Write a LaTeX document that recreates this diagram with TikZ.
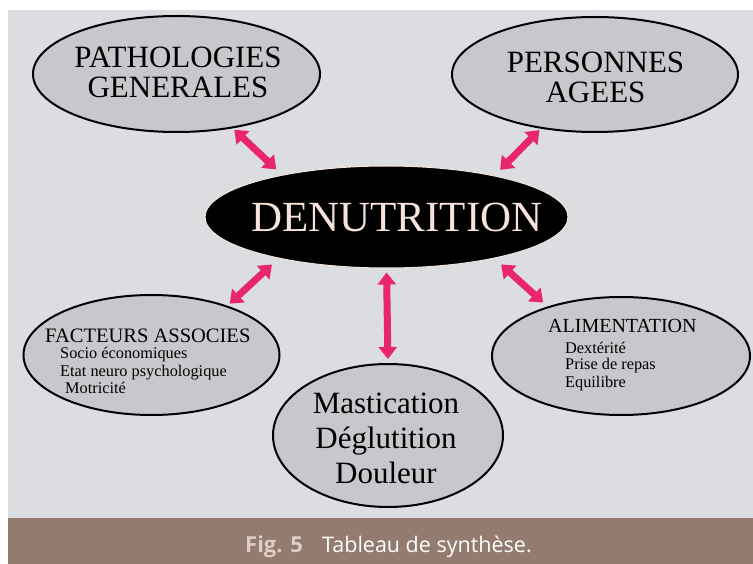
\documentclass[tikz,border=0pt]{standalone}
\usepackage{fontspec}
\setmainfont{Liberation Serif}
\newfontfamily\capfont{Open Sans}
\usetikzlibrary{shapes.geometric,arrows.meta}
\definecolor{fond}{RGB}{220,221,224}
\definecolor{gris}{RGB}{200,200,204}
\definecolor{rose}{RGB}{233,38,108}
\definecolor{bandeau}{RGB}{147,123,112}
\definecolor{figtxt}{RGB}{222,206,198}
\definecolor{dentxt}{RGB}{246,228,220}
\tikzset{
  bulle/.style={ellipse,draw=black,line width=2pt,fill=gris,inner sep=0pt},
  fleche/.style={{Triangle[length=12pt,width=18pt]}-{Triangle[length=12pt,width=18pt]},rose,line width=7pt},
  soustitre/.style={anchor=base west,inner sep=0pt,font=\fontsize{16.3}{17}\selectfont},
}
\begin{document}
\begin{tikzpicture}[x=1pt,y=-1pt]
	\fill[white] (0,0) rectangle (753,564);
	\useasboundingbox (0,0) rectangle (753,564);
	\fill[fond] (8,10) rectangle (753,518);
	\fill[bandeau] (8,518) rectangle (753,564);
	% les bulles
	\node[bulle,minimum width=287pt,minimum height=116pt] (pg) at (176.5,74) {};
	\node[bulle,minimum width=286pt,minimum height=115pt] (pa) at (595,74.5) {};
	\node[ellipse,fill=black,draw=dentxt,line width=1pt,inner sep=0pt,minimum width=363pt,minimum height=102pt] (den) at (386.5,217) {};
	\node[bulle,minimum width=256pt,minimum height=120pt] (fa) at (151.5,355) {};
	\node[bulle,minimum width=230pt,minimum height=143pt] (ms) at (388,435.5) {};
	\node[bulle,minimum width=258pt,minimum height=118pt] (al) at (621,356) {};
	% les textes
	\node[align=center,font=\fontsize{31}{30}\selectfont] (pg-t) at (178,72.5) {PATHOLOGIES\\GENERALES};
	\node[align=center,font=\fontsize{31}{30}\selectfont] (pa-t) at (595.5,77) {PERSONNES\\AGEES};
	\node[text=dentxt,font=\fontsize{43}{43}\selectfont] (den-t) at (397,217.5) {DENUTRITION};
	\node[anchor=base west,inner sep=0pt,font=\fontsize{20.5}{20.5}\selectfont] (fa-t) at (45,342) {FACTEURS ASSOCIES};
	\node[soustitre] (fa-1) at (60,359) {Socio économiques};
	\node[soustitre] (fa-2) at (60,376) {Etat neuro psychologique};
	\node[soustitre] (fa-3) at (65,393) {Motricité};
	\node[anchor=base west,inner sep=0pt,font=\fontsize{20}{20}\selectfont] (al-t) at (548,333) {ALIMENTATION};
	\node[soustitre] (al-1) at (565,353) {Dextérité};
	\node[soustitre] (al-2) at (565,370) {Prise de repas};
	\node[soustitre] (al-3) at (565,387) {Equilibre};
	\node[align=center,font=\fontsize{31}{35}\selectfont] (ms-t) at (386,438) {Mastication\\Déglutition\\Douleur};
	% les fleches
	\draw[fleche,shorten <=2pt,shorten >=8pt] (pg.-44) -- (den.158);
	\draw[fleche,shorten <=2pt,shorten >=8pt] (pa.-135) -- (den.21);
	\draw[fleche,shorten <=9pt,shorten >=3pt] (den.201) -- (fa.33);
	\draw[fleche,shorten <=4pt,shorten >=4pt] (den.-90) -- (ms.90);
	\draw[fleche,shorten <=9pt,shorten >=6pt] (den.-21) -- (al.146);
	% legende
	\node[anchor=base west,inner sep=0pt,text=figtxt,font=\capfont\bfseries\fontsize{22}{22}\selectfont] (fig) at (245,552) {Fig. 5};
	\node[anchor=base west,inner sep=0pt,text=white,font=\capfont\fontsize{21.5}{22}\selectfont] (titre) at (322,552) {Tableau de synthèse.};
\end{tikzpicture}
\end{document}
